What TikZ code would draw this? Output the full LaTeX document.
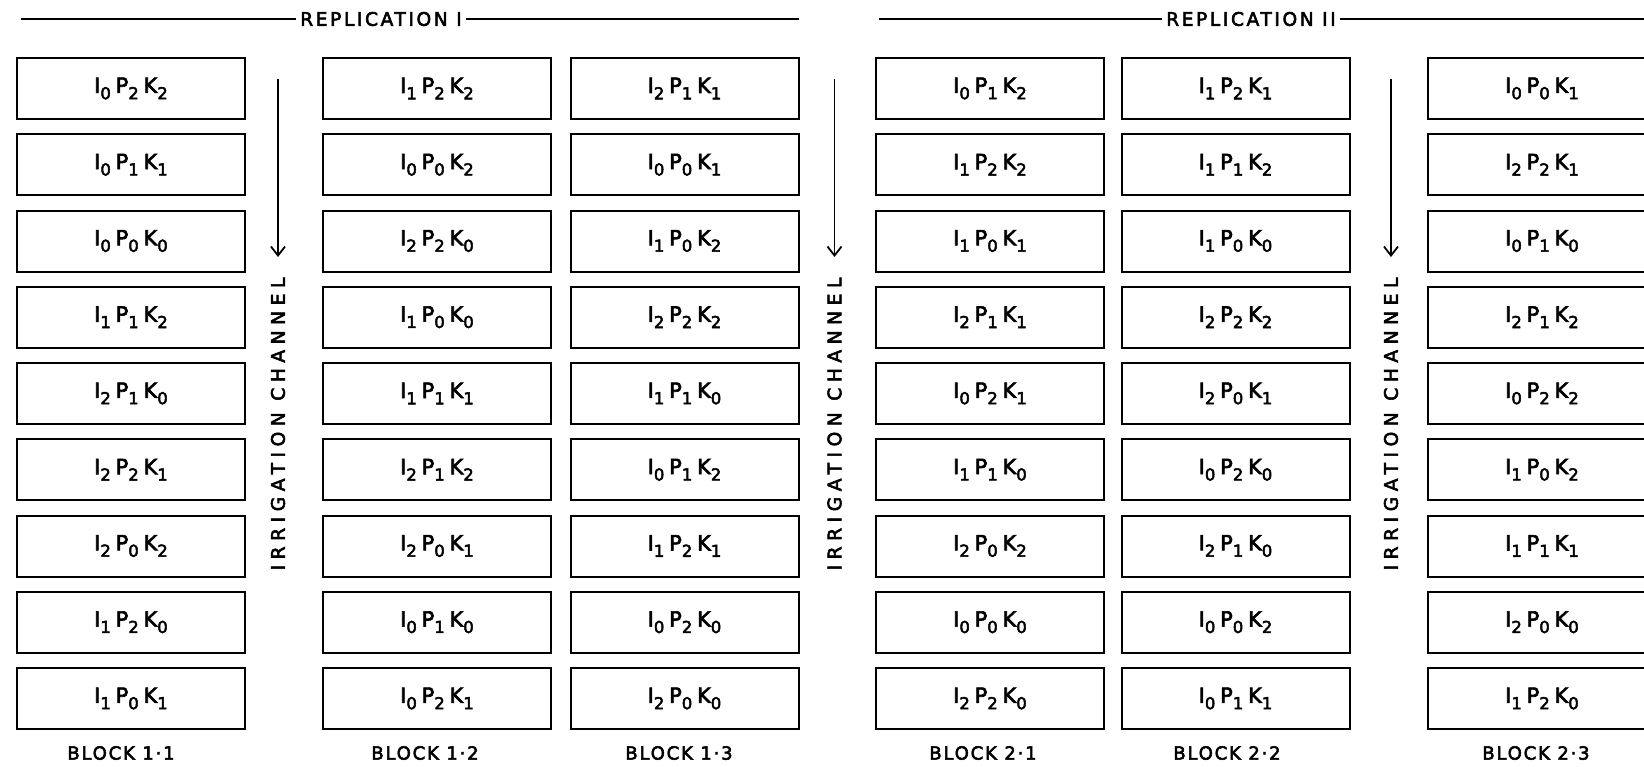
\documentclass[tikz,border=0pt]{standalone}
\usepackage{fontspec}
\setmainfont{DejaVu Sans}[FakeBold=3]
\newfontfamily\lettering[LetterSpace=14,FakeBold=3]{DejaVu Sans}
\newfontfamily\widelettering[LetterSpace=30,FakeBold=3]{DejaVu Sans}
\newfontfamily\blocklettering[LetterSpace=10,FakeBold=3]{DejaVu Sans}
\usetikzlibrary{arrows.meta}

% treatment code: I_a P_b K_c with large lettered subscripts
\newcommand\sub[1]{\raisebox{-0.55ex}{\fontsize{8.2}{8}\selectfont#1}}
\newcommand\plotcode[3]{I\sub{#1}\kern2.4pt P\sub{#2}\kern2.4pt K\sub{#3}}

\begin{document}
\begin{tikzpicture}[x=0.5pt,y=-0.5pt,
  plotbox/.style={draw, line width=1pt, minimum width=114pt, minimum height=30.5pt,
    inner sep=0pt, font=\fontsize{10.5}{11}\selectfont},
  heading/.style={inner sep=2pt, font=\lettering\fontsize{9.3}{10}\selectfont},
  blocklabel/.style={inner sep=0pt, font=\blocklettering\fontsize{9}{10}\selectfont},
  channel/.style={inner sep=0pt, rotate=90, font=\widelettering\fontsize{9.3}{10}\selectfont},
  rule/.style={line width=0.9pt},
  flow/.style={line width=0.9pt, -{Straight Barb[length=4.5pt,width=7pt,line width=0.9pt]}}]
\useasboundingbox (0,0) rectangle (1644,766);
\clip (0,0) rectangle (1644,766);

% plots of the six blocks, nine rows each
\foreach \cx/\tag/\cells in {
  131/a/{0/2/2,0/1/1,0/0/0,1/1/2,2/1/0,2/2/1,2/0/2,1/2/0,1/0/1},
  437/b/{1/2/2,0/0/2,2/2/0,1/0/0,1/1/1,2/1/2,2/0/1,0/1/0,0/2/1},
  684.5/c/{2/1/1,0/0/1,1/0/2,2/2/2,1/1/0,0/1/2,1/2/1,0/2/0,2/0/0},
  990/d/{0/1/2,1/2/2,1/0/1,2/1/1,0/2/1,1/1/0,2/0/2,0/0/0,2/2/0},
  1235.5/e/{1/2/1,1/1/2,1/0/0,2/2/2,2/0/1,0/2/0,2/1/0,0/0/2,0/1/1},
  1542/f/{0/0/1,2/2/1,0/1/0,2/1/2,0/2/2,1/0/2,1/1/1,2/0/0,1/2/0}}{
  \foreach \i/\p/\k [count=\r from 0] in \cells {
    \node[plotbox] (cell-\tag-\r) at (\cx, 88.5+76.25*\r) {\plotcode{\i}{\p}{\k}};
  }
}

% replication headings with their rules
\node[heading] (rep1) at (381,19) {REPLICATION I};
\node[heading] (rep2) at (1251,19) {REPLICATION II};
\coordinate (r1a) at (21,19);
\coordinate (r1b) at (799,19);
\coordinate (r2a) at (879,19);
\coordinate (r2b) at (1644,19);
\draw[rule] (r1a) -- (rep1.west);
\draw[rule] (rep1.east) -- (r1b);
\draw[rule] (r2a) -- (rep2.west);
\draw[rule] (rep2.east) -- (r2b);

% irrigation channels with flow direction
\foreach \x/\n in {278/1, 834.5/2, 1391/3}{
  \coordinate (flow-top-\n) at (\x,79);
  \coordinate (flow-end-\n) at (\x,257);
  \draw[flow] (flow-top-\n) -- (flow-end-\n);
  \node[channel] (channel-\n) at (\x,424) {IRRIGATION CHANNEL};
}

% block labels
\node[blocklabel] (block11) at (121,753) {BLOCK 1·1};
\node[blocklabel] (block12) at (425,753) {BLOCK 1·2};
\node[blocklabel] (block13) at (679,753) {BLOCK 1·3};
\node[blocklabel] (block21) at (983,753) {BLOCK 2·1};
\node[blocklabel] (block22) at (1227,753) {BLOCK 2·2};
\node[blocklabel] (block23) at (1536,753) {BLOCK 2·3};
\end{tikzpicture}
\end{document}
